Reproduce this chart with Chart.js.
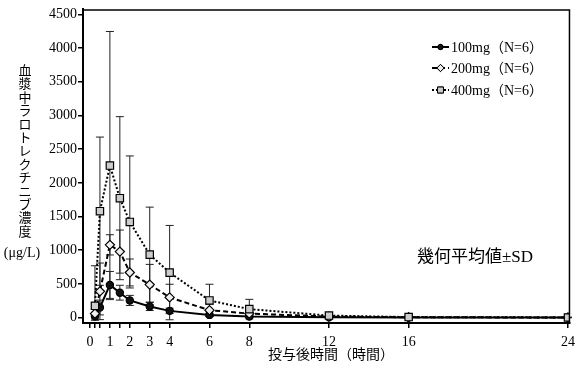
<!DOCTYPE html>
<html lang="ja">
<head>
  <meta charset="UTF-8">
  <title>血漿中ラロトレクチニブ濃度</title>
  <script src="https://cdn.jsdelivr.net/npm/chart.js"></script>
  <style>
    html, body { margin: 0; padding: 0; background: #fff; }
    canvas { display: block; }
  </style>
</head>
<body>
  <canvas id="pkChart" width="581" height="369"></canvas>

  <script>
    // sampling times (hours)
    const times = [0.25, 0.5, 1, 1.5, 2, 3, 4, 6, 8, 12, 16, 24];
    // geometric means (ug/L)
    const conc100 = [20, 150, 485, 370, 255, 165, 100, 40, 15, 5, 2, 1];
    const conc200 = [60, 390, 1080, 980, 670, 490, 300, 110, 60, 15, 5, 2];
    const conc400 = [175, 1580, 2257, 1773, 1420, 935, 668, 255, 126, 30, 8, 2];
    // SD
    const sd100 = [15, 110, 200, 110, 75, 60, 40, 25, 12, 5, 2, 1];
    const sd200 = [80, 420, 150, 320, 200, 300, 195, 90, 60, 15, 5, 2];
    const sd400 = [595, 1100, 1990, 1210, 980, 705, 700, 240, 145, 30, 8, 2];

    const seriesLabels = ['100mg（N=6）', '200mg（N=6）', '400mg（N=6）'];
    const yTicks = [0, 500, 1000, 1500, 2000, 2500, 3000, 3500, 4000, 4500];
    const xTickMarks = [0, 0.25, 0.5, 1, 1.5, 2, 3, 4, 6, 8, 12, 16, 24];
    const xLabels = [0, 1, 2, 3, 4, 6, 8, 12, 16, 24];
    const yTitleChars = '血漿中ラロトレクチニブ濃度';

    const serif = "'Liberation Serif', 'Noto Sans CJK JP', serif";

    const styles = [
      { dash: [], point: 'circle', radius: 3.6, fill: '#111' },
      { dash: [5, 3], point: 'rectRot', radius: 4.6, fill: '#eee' },
      { dash: [2, 2], point: 'rect', radius: 5.2, fill: '#ccc' }
    ];
    const allConc = [conc100, conc200, conc400];
    const allSd = [sd100, sd200, sd400];

    function toPoints(vals) {
      return times.map((t, i) => ({ x: t, y: vals[i] }));
    }

    // error bars, drawn under the lines and markers
    const errorBars = {
      id: 'errorBars',
      beforeDatasetsDraw(chart) {
        const ctx = chart.ctx;
        const xs = chart.scales.x, ys = chart.scales.y;
        ctx.save();
        ctx.strokeStyle = '#222';
        ctx.lineWidth = 1;
        allConc.forEach((vals, s) => {
          vals.forEach((v, i) => {
            const px = xs.getPixelForValue(times[i]);
            const top = ys.getPixelForValue(v + allSd[s][i]);
            const bot = ys.getPixelForValue(Math.max(v - allSd[s][i], -40));
            ctx.beginPath();
            ctx.moveTo(px, top); ctx.lineTo(px, bot);
            ctx.moveTo(px - 4, top); ctx.lineTo(px + 4, top);
            ctx.moveTo(px - 4, bot); ctx.lineTo(px + 4, bot);
            ctx.stroke();
          });
        });
        ctx.restore();
      }
    };

    // titles, legend, frame and note
    const decorations = {
      id: 'decorations',
      afterDraw(chart) {
        const ctx = chart.ctx;
        const area = chart.chartArea;
        ctx.save();
        ctx.strokeStyle = '#000';
        ctx.lineWidth = 1.5;
        ctx.beginPath();
        ctx.moveTo(area.left, area.top + 0.5);
        ctx.lineTo(area.right - 0.5, area.top + 0.5);
        ctx.lineTo(area.right - 0.5, area.bottom);
        ctx.stroke();

        ctx.fillStyle = '#000';
        ctx.textAlign = 'center';
        ctx.textBaseline = 'middle';
        ctx.font = "13px 'Noto Sans CJK JP'";
        for (let i = 0; i < yTitleChars.length; i++) {
          ctx.fillText(yTitleChars[i], 25, 70 + i * 13.4);
        }
        ctx.font = '14px ' + serif;
        ctx.fillText('(μg/L)', 22, 253);

        ctx.font = '14px ' + serif;
        ctx.fillText('投与後時間（時間）', 331, 355);

        ctx.font = '17px ' + serif;
        ctx.fillText('幾何平均値±SD', 475, 258);

        // legend
        const rows = [47, 68, 90];
        ctx.textAlign = 'left';
        ctx.font = '14px ' + serif;
        rows.forEach((y, s) => {
          const st = styles[s];
          ctx.setLineDash(st.dash);
          ctx.lineWidth = 2;
          ctx.beginPath();
          ctx.moveTo(432, y); ctx.lineTo(449, y);
          ctx.stroke();
          ctx.setLineDash([]);
          ctx.lineWidth = 1;
          ctx.fillStyle = st.fill;
          Chart.helpers.drawPoint(ctx, { pointStyle: st.point, radius: st.radius - 1, borderWidth: 1 }, 440.5, y);
          ctx.fill();
          ctx.stroke();
          ctx.fillStyle = '#000';
          ctx.fillText(seriesLabels[s], 451, y + 1);
        });
        ctx.restore();
      }
    };

    const datasets = allConc.map((vals, s) => ({
      label: seriesLabels[s],
      data: toPoints(vals),
      borderColor: '#000',
      borderWidth: 2,
      borderDash: styles[s].dash,
      pointStyle: styles[s].point,
      pointRadius: styles[s].radius,
      pointBorderWidth: 1.2,
      pointBorderColor: '#000',
      pointBackgroundColor: styles[s].fill,
      tension: 0,
      fill: false
    })).reverse();

    new Chart(document.getElementById('pkChart'), {
      type: 'line',
      data: { datasets: datasets },
      options: {
        responsive: false,
        animation: false,
        layout: { padding: { left: 0, right: 4, top: 2, bottom: 0 } },
        plugins: { legend: { display: false }, tooltip: { enabled: false } },
        scales: {
          x: {
            type: 'linear',
            min: -0.35,
            max: 24.1,
            afterBuildTicks: scale => { scale.ticks = xTickMarks.map(v => ({ value: v })); },
            afterFit: scale => { scale.height = 46; },
            ticks: {
              autoSkip: false,
              maxRotation: 0,
              padding: 6,
              color: '#000',
              font: { family: serif, size: 14 },
              callback: v => xLabels.includes(v) ? String(v) : ''
            },
            grid: { drawOnChartArea: false, drawTicks: true, tickLength: 5, color: '#000', lineWidth: 1.5 },
            border: { display: true, color: '#000', width: 2 }
          },
          y: {
            min: -80,
            max: 4575,
            afterBuildTicks: scale => { scale.ticks = yTicks.map(v => ({ value: v })); },
            afterFit: scale => { scale.width = 83; },
            ticks: {
              padding: 1,
              color: '#000',
              font: { family: serif, size: 14 },
              callback: v => String(v)
            },
            grid: { drawOnChartArea: false, drawTicks: true, tickLength: 5, color: '#000', lineWidth: 1.5 },
            border: { display: true, color: '#000', width: 2 }
          }
        }
      },
      plugins: [errorBars, decorations]
    });
  </script>
</body>
</html>
